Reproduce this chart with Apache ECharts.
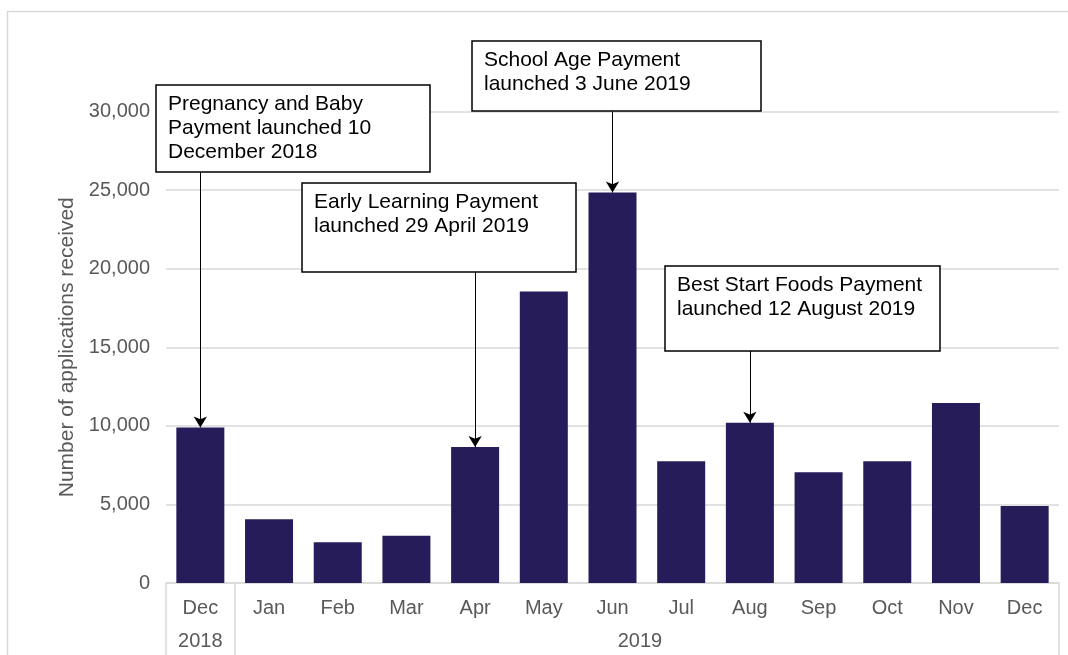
<!DOCTYPE html>
<html>
<head>
<meta charset="utf-8">
<style type="text/css">
html, body { margin: 0; padding: 0; background: #fff; }
#chart { width: 1068px; height: 655px; }
</style>
<script type="text/javascript" src="https://cdn.jsdelivr.net/npm/echarts@6/dist/echarts.min.js"></script>
</head>
<body>
<div id="chart"></div>
<script type="text/javascript">
// months, Dec 2018 .. Dec 2019
var months = ['Dec', 'Jan', 'Feb', 'Mar', 'Apr', 'May', 'Jun', 'Jul', 'Aug', 'Sep', 'Oct', 'Nov', 'Dec'];
var applications = [9900, 4050, 2600, 3000, 8650, 18550, 24850, 7750, 10200, 7050, 7750, 11450, 4900];
var years = ['2018', '2019'];
var yTicks = [0, 5000, 10000, 15000, 20000, 25000, 30000];

// launch notes: month index, where the arrow leaves the box, note text
var noteIdx = [0, 4, 6, 8];
var noteFrom = [26200, 19800, 30000, 14800];
var noteText = [
	'Pregnancy and Baby\nPayment launched 10\nDecember 2018',
	'Early Learning Payment\nlaunched 29 April 2019',
	'School Age Payment\nlaunched 3 June 2019',
	'Best Start Foods Payment\nlaunched 12 August 2019'
];

var grey = '#595959', line = '#d9d9d9', font = 'Liberation Sans';

// box geometry for the notes [x, y, w, h]
var boxes = [[156, 85, 274, 87], [302, 183, 274, 89], [472, 41, 289, 70], [665, 266, 275, 85]];

var chart = echarts.init(document.getElementById('chart'));

var arrows = [];
for (var i = 0; i < noteIdx.length; i++) {
	arrows.push([
		{ coord: [noteIdx[i], noteFrom[i]] },
		{ coord: [noteIdx[i], applications[noteIdx[i]]] }
	]);
}

var gfx = [{
	type: 'rect', silent: true,
	shape: { x: 7.5, y: 11.5, width: 1100, height: 700 },
	style: { fill: 'none', stroke: line, lineWidth: 1.5 }
}];
for (var j = 0; j < boxes.length; j++) {
	var b = boxes[j];
	gfx.push({
		type: 'rect', silent: true, z: 10,
		shape: { x: b[0], y: b[1], width: b[2], height: b[3] },
		style: { fill: '#fff', stroke: '#000', lineWidth: 1.5 }
	});
	gfx.push({
		type: 'text', silent: true, z: 11,
		x: b[0] + 12, y: b[1] + 7,
		style: { text: noteText[j], fill: '#000', font: '21px "' + font + '"', lineHeight: 24 }
	});
}

chart.setOption({
	animation: false,
	textStyle: { fontFamily: font },
	grid: { left: 166, right: 9, top: 111.5, bottom: 72 },
	xAxis: [{
		type: 'category',
		data: months,
		axisLine: { lineStyle: { color: line, width: 1.5 } },
		axisTick: { show: false },
		axisLabel: { color: grey, fontSize: 20, margin: 15 }
	}, {
		// year row under the months
		type: 'value', min: 0, max: 13, position: 'bottom',
		axisLine: { show: false },
		splitLine: { show: false },
		axisTick: { show: true, customValues: [0, 1, 13], length: 75, lineStyle: { color: line, width: 1.5 } },
		axisLabel: {
			customValues: [0.5, 6.9], color: grey, fontSize: 20, margin: 48,
			formatter: function (v) { return v < 1 ? years[0] : years[1]; }
		}
	}],
	yAxis: {
		type: 'value',
		min: yTicks[0], max: yTicks[yTicks.length - 1], interval: 5000,
		name: 'Number of applications received',
		nameLocation: 'middle', nameGap: 88,
		nameTextStyle: { color: grey, fontSize: 21 },
		axisLine: { show: false },
		axisTick: { show: false },
		axisLabel: {
			color: grey, fontSize: 20, margin: 16,
			formatter: function (v) { return v.toLocaleString('en-GB'); }
		},
		splitLine: { lineStyle: { color: line, width: 1.5 } }
	},
	series: [{
		type: 'bar',
		data: applications,
		barWidth: 48,
		itemStyle: { color: '#261c5a' },
		markLine: {
			silent: true,
			symbol: ['none', 'arrow'],
			symbolSize: [10, 11],
			label: { show: false },
			lineStyle: { color: '#000', width: 1, type: 'solid' },
			data: arrows
		}
	}],
	graphic: gfx
});
</script>
</body>
</html>
